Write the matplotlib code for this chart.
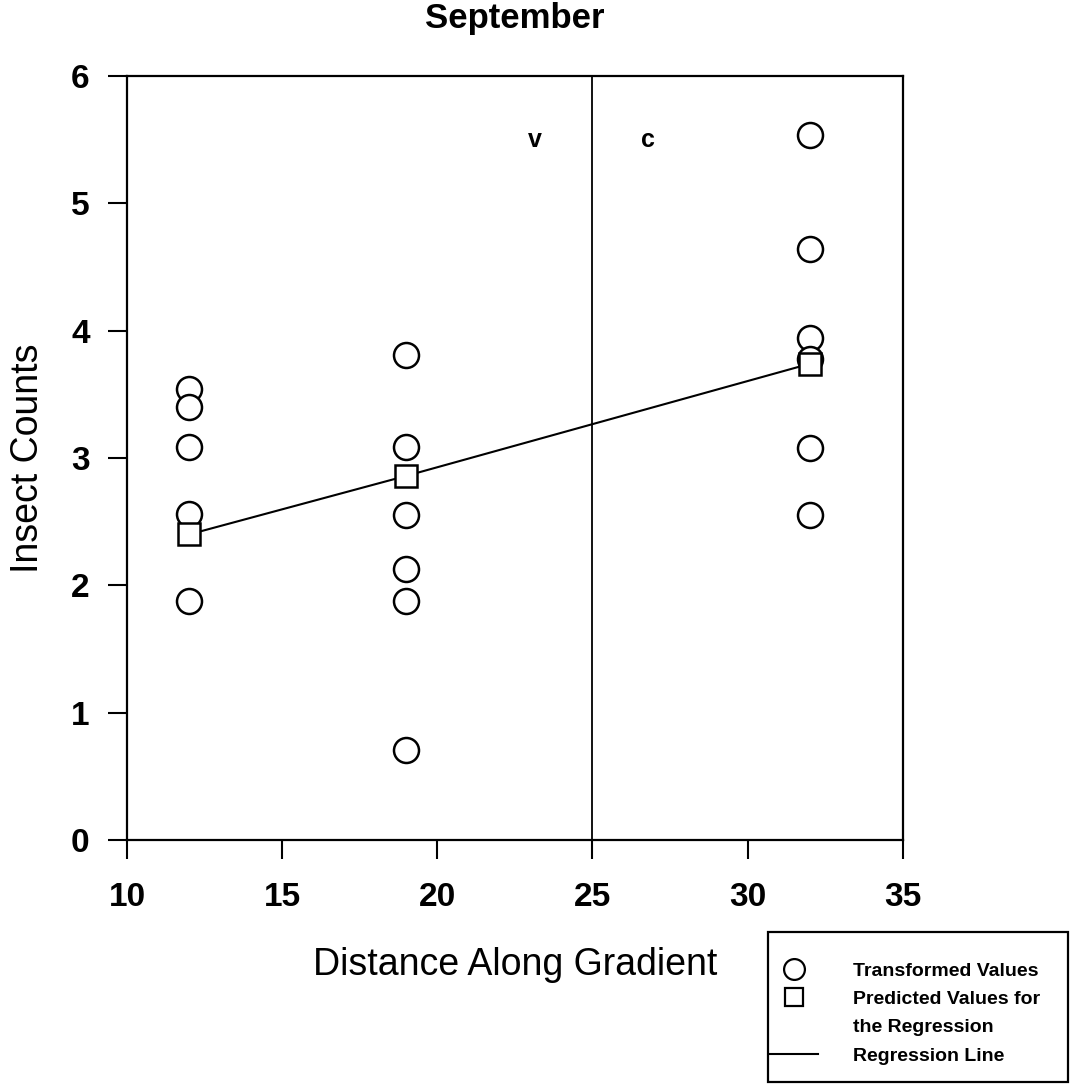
import matplotlib
matplotlib.use('Agg')
import matplotlib.pyplot as plt
from matplotlib.lines import Line2D
from matplotlib.patches import Rectangle

plt.rcParams['font.family'] = ['Liberation Sans', 'DejaVu Sans']

# === 数据 ===
obs_x = [12, 12, 12, 12, 12,
         19, 19, 19, 19, 19, 19,
         32, 32, 32, 32, 32, 32]
obs_y = [3.54, 3.40, 3.09, 2.56, 1.88,
         3.81, 3.09, 2.55, 2.13, 1.88, 0.71,
         5.54, 4.64, 3.94, 3.78, 3.08, 2.55]
pred_x = [12, 19, 32]
pred_y = [2.40, 2.86, 3.74]
boundary_x = 25
zone_labels = ['v', 'c']
zone_label_x = [23.15, 26.8]
zone_label_y = 5.5

fig = plt.figure(figsize=(10.72, 10.88), dpi=100)
ax = fig.add_axes([0.1185, 0.228, 0.7235, 0.702])

# 回归线
ax.plot(pred_x, pred_y, color='black', linewidth=1.5, zorder=2)
# 观测值
ax.plot(obs_x, obs_y, linestyle='none', marker='o', markersize=18,
        markerfacecolor='white', markeredgecolor='black', markeredgewidth=1.8, zorder=3)
# 预测值
ax.plot(pred_x, pred_y, linestyle='none', marker='s', markersize=16,
        markerfacecolor='white', markeredgecolor='black', markeredgewidth=1.8, zorder=4)

# 分界线
ax.plot([boundary_x, boundary_x], [0, 6], color='black', linewidth=1.3, zorder=1)
for lab, lx in zip(zone_labels, zone_label_x):
    ax.text(lx, zone_label_y, lab, ha='center', va='center', fontsize=18, fontweight='bold')

ax.set_xlim(10, 35)
ax.set_ylim(0, 6)
ax.set_xticks([10, 15, 20, 25, 30, 35])
ax.set_yticks([0, 1, 2, 3, 4, 5, 6])
ax.tick_params(direction='out', length=14, width=1.5, labelsize=24)
ax.tick_params(axis='x', pad=16)
ax.tick_params(axis='y', pad=13)
for lbl in ax.get_xticklabels() + ax.get_yticklabels():
    lbl.set_fontweight('bold')
for sp in ax.spines.values():
    sp.set_linewidth(1.6)

ax.set_title('September', fontsize=25, fontweight='bold', pad=35)
ax.set_xlabel('Distance Along Gradient', fontsize=27, va='center')
ax.xaxis.set_label_coords(0.5, -0.1636)
ax.set_ylabel('Insect Counts', fontsize=27, va='center')
ax.yaxis.set_label_coords(-0.128, 0.5)

# 图例（外框单独画）
box = Rectangle((0.7164, 0.0055), 0.2799, 0.1379, transform=fig.transFigure,
                facecolor='white', edgecolor='black', linewidth=1.6, zorder=5)
fig.patches.append(box)
handles = [
    Line2D([], [], linestyle='none', marker='o', markersize=15, markerfacecolor='white',
           markeredgecolor='black', markeredgewidth=1.6),
    Line2D([], [], linestyle='none', marker='s', markersize=13, markerfacecolor='white',
           markeredgecolor='black', markeredgewidth=1.6),
    Line2D([], [], linestyle='none'),   # 第二行文字占位
    Line2D([], [], color='black', linewidth=1.5),
]
labels = ['Transformed Values', 'Predicted Values for', 'the Regression', 'Regression Line']
leg = fig.legend(handles, labels, loc='upper left', bbox_to_anchor=(0.7183, 0.1158),
                 prop={'weight': 'bold', 'size': 14}, frameon=False,
                 handlelength=2.45, handletextpad=1.8,
                 borderpad=0, borderaxespad=0, labelspacing=0.55)
leg.set_zorder(6)

fig.savefig('out.png', dpi=100)
